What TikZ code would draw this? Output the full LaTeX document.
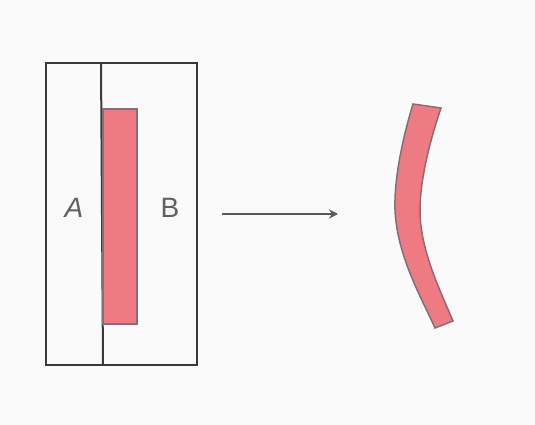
\documentclass[tikz,border=0pt]{standalone}
\usepackage{fontspec}
\setsansfont{Liberation Sans}
\usetikzlibrary{arrows.meta}
\definecolor{barfill}{HTML}{EF7B82}
\definecolor{barline}{HTML}{8C6B78}
\definecolor{ink}{HTML}{3A3A3A}
\definecolor{bg}{HTML}{FAFAFA}
\tikzset{
  frame/.style={draw=ink, line width=2pt},
  bar/.style={fill=barfill, draw=barline, line width=1.5pt},
  lbl/.style={text=ink!80, font=\sffamily\fontsize{28}{30}\selectfont, inner sep=0pt},
  arr/.style={draw=ink!85, line width=1.8pt, -{Stealth[length=9pt,width=9pt]}}
}
\begin{document}
\begin{tikzpicture}[x=1pt,y=-1pt]
\path[fill=bg] (0,0) rectangle (535,425);
\useasboundingbox (0,0) rectangle (535,425);
% outer box and divider
\draw[frame] (46,63) rectangle (197,365);
\draw[frame] (101,63) -- (103,365);
% straight bar
\draw[bar] (103,109) rectangle (137,324);
% labels
\node[lbl] (A) at (74,208) {\itshape A};
\node[lbl] (B) at (170,208) {B};
% arrow
\coordinate (s) at (222,214);
\coordinate (e) at (338,214);
\draw[arr] (s) -- (e);
% bent bar
\draw[bar] (413,104) .. controls (402,140) and (394,180) .. (395,210)
  .. controls (397,255) and (420,295) .. (435,328) -- (453,321)
  .. controls (440,290) and (420,250) .. (420,210)
  .. controls (420,180) and (430,140) .. (441,108) -- cycle;
\end{tikzpicture}
\end{document}
